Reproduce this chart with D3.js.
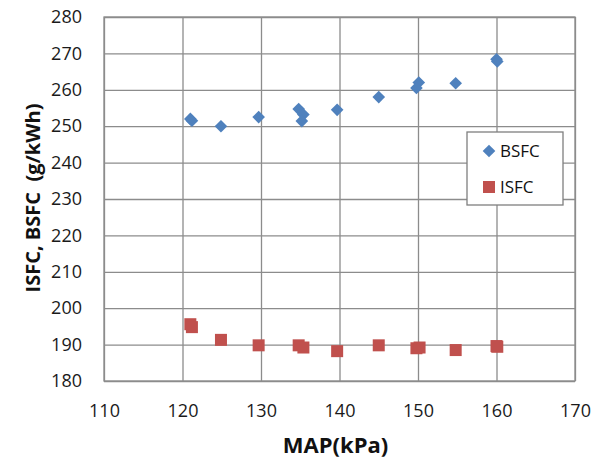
<!DOCTYPE html>
<html>
<head>
<meta charset="utf-8">
<script src="https://cdn.jsdelivr.net/npm/d3@7"></script>
<style>
  body { margin: 0; background: #fff; }
  text { font-family: "Open Sans", "Noto Sans", sans-serif; }
</style>
</head>
<body>
<div id="chart"></div>
<script>
// MAP (kPa) for each measured point
const bsfcMap = [121, 121.2, 124.9, 129.7, 134.8, 135.4, 135.2, 139.7, 145, 150.1, 149.8, 154.8, 160, 160.1]
const bsfcVal = [252, 251.5, 250, 252.5, 254.7, 253.2, 251.4, 254.5, 258, 262, 260.5, 261.8, 268.4, 267.8]
const isfcMap = [121, 121.2, 124.9, 129.7, 134.8, 135.4, 139.7, 145, 149.8, 150.2, 154.8, 160, 160.1]
const isfcVal = [195.6, 194.8, 191.3, 189.8, 189.8, 189.2, 188.2, 189.8, 189, 189.2, 188.5, 189.6, 189.4]
const xTicks = [110, 120, 130, 140, 150, 160, 170]
const yTicks = [180, 190, 200, 210, 220, 230, 240, 250, 260, 270, 280]

const W = 602, H = 459
let margin = { top: 17, right: 27, bottom: 78, left: 104 },
    width = W - margin.left - margin.right,
    height = H - margin.top - margin.bottom

let svg = d3.select("#chart").append("svg")
    .attr("width", W)
    .attr("height", H)

let g = svg.append("g")
    .attr("transform", "translate(" + margin.left + "," + margin.top + ")")

let x = d3.scaleLinear().domain([110, 170]).range([0, width])
let y = d3.scaleLinear().domain([180, 280]).range([height, 0])

// grid lines
g.append("g")
    .call(d3.axisBottom(x).tickValues(xTicks).tickSize(height).tickFormat(""))
    .call(a => {
        a.select(".domain").remove()
        a.selectAll(".tick line").attr("stroke", "#8c8c8c").attr("stroke-width", 1.3)
    })
g.append("g")
    .call(d3.axisLeft(y).tickValues(yTicks).tickSize(-width).tickFormat(""))
    .call(a => {
        a.select(".domain").remove()
        a.selectAll(".tick line").attr("stroke", "#8c8c8c").attr("stroke-width", 1.3)
    })

g.append("rect")
    .attr("width", width).attr("height", height)
    .attr("fill", "none").attr("stroke", "#8c8c8c").attr("stroke-width", 1.3)

// tick labels
g.append("g")
    .attr("transform", "translate(0," + height + ")")
    .call(d3.axisBottom(x).tickValues(xTicks).tickSize(0).tickPadding(23))
    .call(a => {
        a.select(".domain").remove()
        a.selectAll("text").attr("font-size", 18).attr("fill", "#1a1a1a")
    })
g.append("g")
    .call(d3.axisLeft(y).tickValues(yTicks).tickSize(0).tickPadding(22))
    .call(a => {
        a.select(".domain").remove()
        a.selectAll("text").attr("font-size", 18).attr("fill", "#1a1a1a")
    })

// axis titles
svg.append("text")
    .attr("x", margin.left + x(139.5)).attr("y", 453)
    .attr("text-anchor", "middle")
    .attr("font-size", 22).attr("font-weight", "bold").attr("fill", "#111")
    .text("MAP(kPa)")
svg.append("text")
    .attr("transform", "translate(40,198) rotate(-90)")
    .attr("text-anchor", "middle")
    .attr("font-size", 20).attr("font-weight", "bold").attr("fill", "#111")
    .attr("xml:space", "preserve")
    .text("ISFC, BSFC  (g/kWh)")

const diamond = d3.symbol().type(d3.symbolSquare).size(80)

// BSFC points
g.selectAll(".bsfc")
    .data(bsfcMap.map((m, i) => ({ m, v: bsfcVal[i] })))
    .enter().append("path")
    .attr("class", "bsfc")
    .attr("d", diamond)
    .attr("transform", d => "translate(" + x(d.m) + "," + y(d.v) + ") rotate(45)")
    .attr("fill", "#4f81bd")

// ISFC points
g.selectAll(".isfc")
    .data(isfcMap.map((m, i) => ({ m, v: isfcVal[i] })))
    .enter().append("rect")
    .attr("class", "isfc")
    .attr("x", d => x(d.m) - 6).attr("y", d => y(d.v) - 6)
    .attr("width", 12).attr("height", 12)
    .attr("fill", "#c0504d")

// legend
let legend = svg.append("g").attr("transform", "translate(467,132)")
legend.append("rect")
    .attr("width", 96).attr("height", 73)
    .attr("fill", "#fff").attr("stroke", "#7f7f7f").attr("stroke-width", 1.3)
legend.append("path")
    .attr("d", diamond)
    .attr("transform", "translate(22,19) rotate(45)")
    .attr("fill", "#4f81bd")
legend.append("rect")
    .attr("x", 16).attr("y", 49).attr("width", 12).attr("height", 12)
    .attr("fill", "#c0504d")
legend.append("text").attr("x", 33).attr("y", 25)
    .attr("font-size", 17).attr("fill", "#111").text("BSFC")
legend.append("text").attr("x", 33).attr("y", 61)
    .attr("font-size", 17).attr("fill", "#111").text("ISFC")
</script>
</body>
</html>
